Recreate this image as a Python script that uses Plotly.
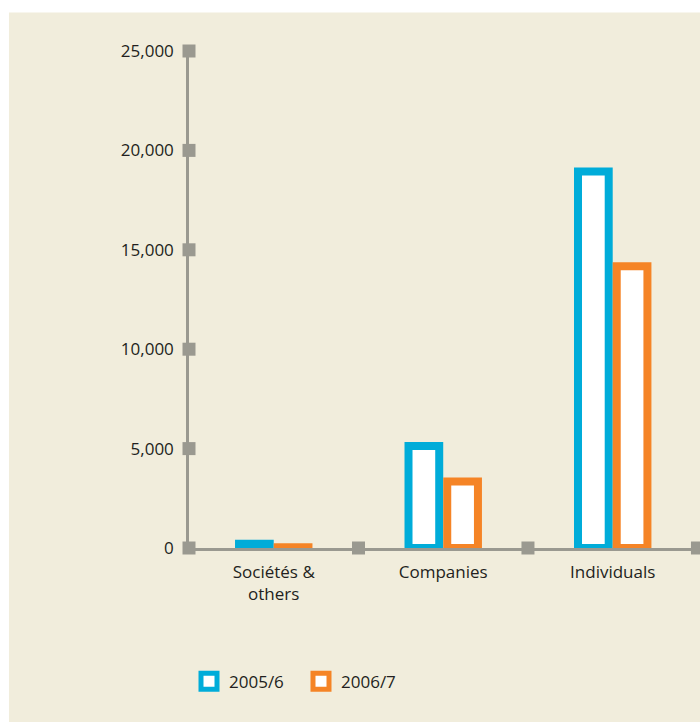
import plotly.graph_objects as go

# Tax receipts by taxpayer type
categories = ["Sociétés &<br>others", "Companies", "Individuals"]
series_names = ["2005/6", "2006/7"]
values_2005 = [220, 5130, 18940]
values_2006 = [40, 3340, 14170]
y_ticks = [0, 5000, 10000, 15000, 20000, 25000]

BLUE = "#00acd9"
ORANGE = "#f58426"
AXIS_GREY = "#9a9990"
BEIGE = "#f1eddc"
TEXT = "#231f20"
FONT = "Open Sans"

x_pos = list(range(len(categories)))
# square markers sitting on the axes: the y-axis ticks and the category dividers
divider_pos = [p + 0.5 for p in x_pos]

fig = go.Figure()

for name, vals, col in [(series_names[0], values_2005, BLUE),
                        (series_names[1], values_2006, ORANGE)]:
    fig.add_trace(go.Bar(
        x=x_pos, y=vals, name=name, showlegend=False,
        marker=dict(color="white", line=dict(color=col, width=8)),
    ))

# axis tick squares
fig.add_trace(go.Scatter(
    x=[-0.5] * len(y_ticks) + divider_pos,
    y=y_ticks + [0] * len(divider_pos),
    mode="markers", showlegend=False, hoverinfo="skip", cliponaxis=False,
    marker=dict(symbol="square", size=13, color=AXIS_GREY, line=dict(width=0)),
))

# legend entries
for name, col in [(series_names[0], BLUE), (series_names[1], ORANGE)]:
    fig.add_trace(go.Scatter(
        x=[None], y=[None], mode="markers", name=name, showlegend=True,
        marker=dict(symbol="square", size=16, color="white",
                    line=dict(color=col, width=5)),
    ))

fig.update_layout(
    width=700, height=722,
    margin=dict(l=189, r=0, t=51, b=174),
    paper_bgcolor="white",
    plot_bgcolor="rgba(0,0,0,0)",
    font=dict(family=FONT, size=17, color=TEXT),
    barmode="group", bargap=0.543, bargroupgap=0.207,
    showlegend=True,
    legend=dict(orientation="h", x=0.0, xanchor="left", y=-0.269, yanchor="middle",
                entrywidth=67, entrywidthmode="pixels",
                bgcolor="rgba(0,0,0,0)", font=dict(family=FONT, size=17, color=TEXT),
                itemclick=False),
    shapes=[dict(type="rect", xref="paper", yref="paper",
                 x0=-0.3523, x1=1.05, y0=-0.4, y1=1.0777,
                 fillcolor=BEIGE, line=dict(width=0), layer="below")],
)

fig.update_xaxes(
    range=[-0.5, 2.515], tickmode="array", tickvals=x_pos, ticktext=categories,
    showline=True, linecolor=AXIS_GREY, linewidth=2.5, showgrid=False,
    zeroline=False, ticks="", ticklabelstandoff=7,
)
fig.update_yaxes(
    range=[0, 25000], tickmode="array", tickvals=y_ticks, tickformat=",d",
    showline=True, linecolor=AXIS_GREY, linewidth=2.5, showgrid=False,
    zeroline=False, ticks="", ticklabelstandoff=9,
)

fig.write_html("out.html")
